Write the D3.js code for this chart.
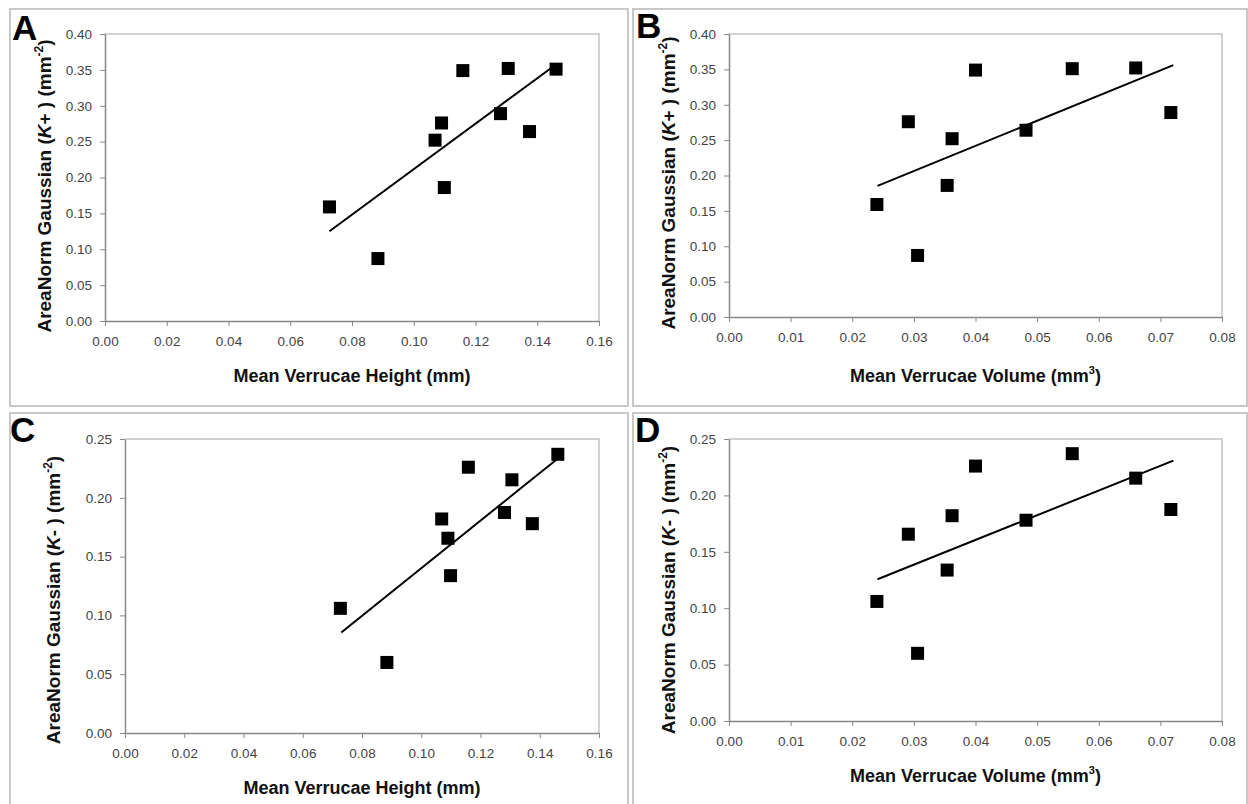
<!DOCTYPE html>
<html>
<head>
<meta charset="utf-8">
<script src="https://cdn.jsdelivr.net/npm/d3@7"></script>
<style>
  body { margin: 0; background: #fff; }
  svg { font-family: "Liberation Sans", Arial, sans-serif; }
  .tick text { fill: #444; font-size: 13.5px; }
  .tick line { stroke: #888; }
  .domain { stroke: #888; stroke-width: 1.5; }
  .axis-title { font-weight: bold; font-size: 18px; fill: #111; }
  .y-title { font-size: 19px; }
  .panel-letter { font-weight: bold; font-size: 35px; fill: #000; }
</style>
</head>
<body>
<div id="chart-area"></div>
<script>
// Data (ten specimens, same order in every array)
const heightMm  = [0.0727, 0.0884, 0.1069, 0.1090, 0.1099, 0.1159, 0.1306, 0.1281, 0.1375, 0.1461];
const volumeMm3 = [0.0240, 0.0306, 0.0362, 0.0291, 0.0354, 0.0400, 0.0660, 0.0717, 0.0482, 0.0557];
const kPlus     = [0.159, 0.087, 0.252, 0.276, 0.186, 0.349, 0.352, 0.289, 0.264, 0.351];
const kMinus    = [0.106, 0.060, 0.182, 0.1656, 0.1338, 0.226, 0.2153, 0.1875, 0.178, 0.237];

// trend line ends as drawn in the figure [x, y]
const trendA = [[0.0727, 0.125], [0.1443, 0.352]];
const trendB = [[0.0241, 0.1854], [0.0721, 0.356]];
const trendC = [[0.0730, 0.0855], [0.1456, 0.2324]];
const trendD = [[0.0241, 0.1257], [0.0721, 0.2308]];

// tick values
const heightTicks = [0, 0.02, 0.04, 0.06, 0.08, 0.10, 0.12, 0.14, 0.16];
const volumeTicks = [0, 0.01, 0.02, 0.03, 0.04, 0.05, 0.06, 0.07, 0.08];
const kPlusTicks  = [0, 0.05, 0.10, 0.15, 0.20, 0.25, 0.30, 0.35, 0.40];
const kMinusTicks = [0, 0.05, 0.10, 0.15, 0.20, 0.25];

let svg = d3.select("#chart-area").append("svg")
    .attr("width", 1248)
    .attr("height", 804);

let panels = [
  {letter: "A", xs: heightMm, ys: kPlus, trend: trendA, xt: heightTicks, yt: kPlusTicks,
   xtitle: "height", ysign: "+ ", frame: [10, 9, 618, 397], letterPos: [12, 40],
   plot: {x0: 105, x1: 599, y0: 34, y1: 321}, ytitleX: 44, ytitleY: 186, xtitleY: 382},
  {letter: "B", xs: volumeMm3, ys: kPlus, trend: trendB, xt: volumeTicks, yt: kPlusTicks,
   xtitle: "volume", ysign: "+ ", frame: [633, 9, 614, 397], letterPos: [636, 38],
   plot: {x0: 729, x1: 1222, y0: 34, y1: 317}, ytitleX: 668, ytitleY: 183, xtitleY: 382},
  {letter: "C", xs: heightMm, ys: kMinus, trend: trendC, xt: heightTicks, yt: kMinusTicks,
   xtitle: "height", ysign: "- ", frame: [10, 413, 618, 400], letterPos: [10, 442],
   plot: {x0: 125, x1: 599, y0: 439, y1: 733}, ytitleX: 53, ytitleY: 600, xtitleY: 794},
  {letter: "D", xs: volumeMm3, ys: kMinus, trend: trendD, xt: volumeTicks, yt: kMinusTicks,
   xtitle: "volume", ysign: "- ", frame: [633, 413, 614, 400], letterPos: [635, 442],
   plot: {x0: 729, x1: 1222, y0: 439, y1: 721}, ytitleX: 668, ytitleY: 590, xtitleY: 782}
];

panels.forEach(function(p) {
  let g = svg.append("g");

  // panel frame
  g.append("rect")
    .attr("x", p.frame[0]).attr("y", p.frame[1])
    .attr("width", p.frame[2]).attr("height", p.frame[3])
    .attr("fill", "none")
    .attr("stroke", "#c8c8c8")
    .attr("stroke-width", 2);

  let x = d3.scaleLinear()
    .domain([0, d3.max(p.xt)])
    .range([p.plot.x0, p.plot.x1]);
  let y = d3.scaleLinear()
    .domain([0, d3.max(p.yt)])
    .range([p.plot.y1, p.plot.y0]);

  // light top/right border of plot area
  g.append("path")
    .attr("d", "M" + x.range()[0] + "," + y.range()[1] + "H" + x.range()[1] + "V" + y.range()[0])
    .attr("fill", "none")
    .attr("stroke", "#c4c4c4")
    .attr("stroke-width", 1.5);

  let xAxis = d3.axisBottom(x)
    .tickValues(p.xt)
    .tickFormat(d3.format(".2f"))
    .tickSizeInner(5)
    .tickSizeOuter(0)
    .tickPadding(10);
  let yAxis = d3.axisLeft(y)
    .tickValues(p.yt)
    .tickFormat(d3.format(".2f"))
    .tickSizeInner(5)
    .tickSizeOuter(0)
    .tickPadding(8);

  g.append("g")
    .attr("transform", "translate(0," + p.plot.y1 + ")")
    .call(xAxis);
  g.append("g")
    .attr("transform", "translate(" + p.plot.x0 + ",0)")
    .call(yAxis);

  // trend line
  g.append("line")
    .attr("x1", x(p.trend[0][0])).attr("y1", y(p.trend[0][1]))
    .attr("x2", x(p.trend[1][0])).attr("y2", y(p.trend[1][1]))
    .attr("stroke", "#000")
    .attr("stroke-width", 2);

  // square markers
  let sz = 13;
  g.selectAll(".pt")
    .data(d3.zip(p.xs, p.ys))
    .enter()
    .append("rect")
    .attr("class", "pt")
    .attr("x", d => x(d[0]) - sz / 2)
    .attr("y", d => y(d[1]) - sz / 2)
    .attr("width", sz)
    .attr("height", sz)
    .attr("fill", "#000");

  // x title
  let xt = g.append("text")
    .attr("class", "axis-title")
    .attr("x", (p.plot.x0 + p.plot.x1) / 2)
    .attr("y", p.xtitleY)
    .attr("text-anchor", "middle");
  if (p.xtitle == "height") {
    xt.text("Mean Verrucae Height (mm)");
  } else {
    xt.append("tspan").text("Mean Verrucae Volume (mm");
    xt.append("tspan").attr("dy", -8).attr("font-size", "11px").text("3");
    xt.append("tspan").attr("dy", 8).text(")");
  }

  // y title
  let yt = g.append("text")
    .attr("class", "axis-title y-title")
    .attr("text-anchor", "middle")
    .attr("transform", "translate(" + p.ytitleX + "," + p.ytitleY + ")rotate(-90)")
    .attr("dy", "0.35em");
  yt.append("tspan").text("AreaNorm Gaussian (");
  yt.append("tspan").attr("font-style", "italic").text("K");
  yt.append("tspan").text(p.ysign + ") (mm");
  yt.append("tspan").attr("dy", -8).attr("font-size", "12px").text("-2");
  yt.append("tspan").attr("dy", 8).text(")");

  // panel letter
  g.append("text")
    .attr("class", "panel-letter")
    .attr("x", p.letterPos[0])
    .attr("y", p.letterPos[1])
    .text(p.letter);
});
</script>
</body>
</html>
